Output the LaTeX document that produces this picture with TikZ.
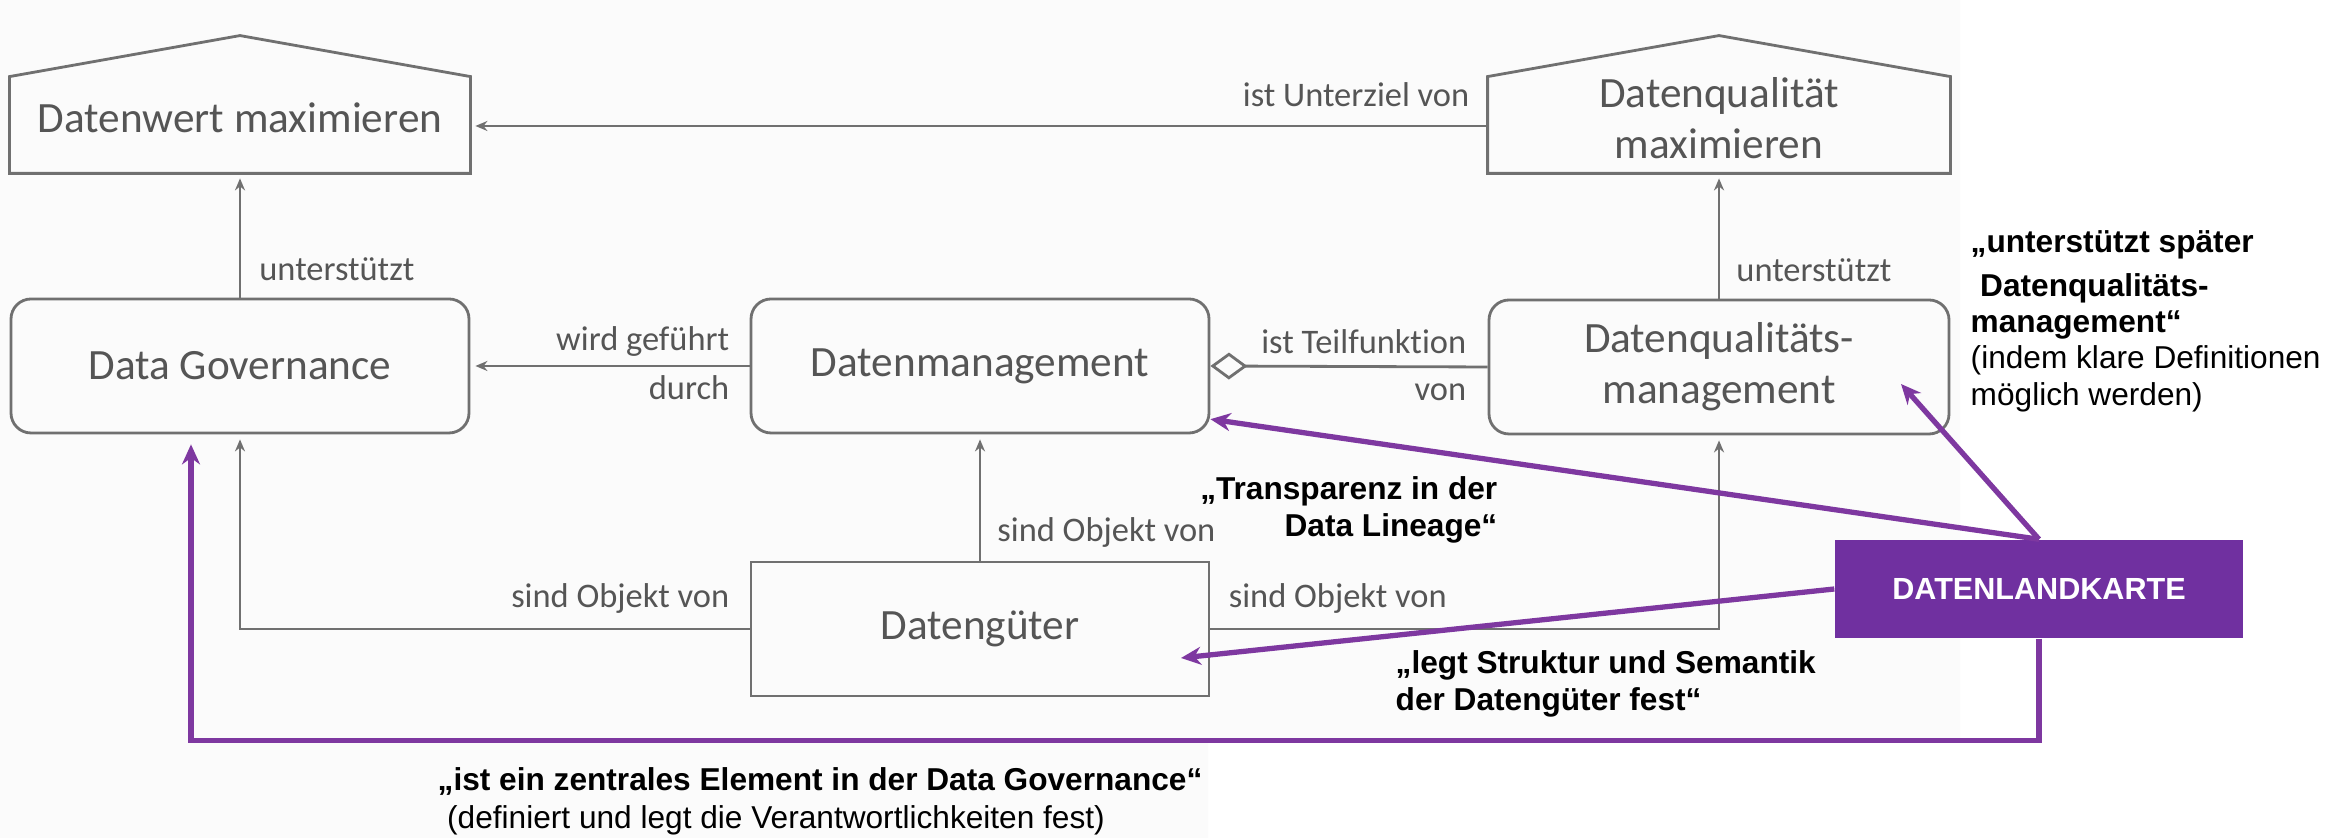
\documentclass[tikz,border=0pt]{standalone}
\usepackage{fontspec}
\setmainfont{Liberation Sans}
\newfontfamily\calibri[Ligatures=NoCommon]{Carlito}
\usepackage{xcolor}
\usepackage{tikz}
\usetikzlibrary{arrows.meta, positioning, calc}
\definecolor{mGray}{HTML}{707070}
\definecolor{mGrayText}{HTML}{555555}
\definecolor{mPurple}{HTML}{7030A0}
\definecolor{mPurpleLine}{HTML}{7E38A0}
\definecolor{mBack}{HTML}{FBFBFB}

\begin{document}
\begin{tikzpicture}[
    box/.style={rectangle, draw=mGray, line width=0.8pt, rounded corners=0.2cm, minimum width=4.58cm, minimum height=1.34cm, inner sep=0pt, align=center, text=mGrayText, font=\calibri\fontsize{12.3}{14.6}\selectfont},
    goal/.style={box, draw=none, sharp corners, minimum height=1.08cm},
    outline/.style={draw=mGray, line width=0.8pt},
    rel/.style={font=\calibri\fontsize{9.8}{11.8}\selectfont, text=mGrayText, inner sep=0.08cm},
    arrow/.style={line width=0.8pt, mGray, shorten >=0.05cm, -{Stealth[length=0.12cm,width=0.10cm]}},
    hot/.style={line width=1.5pt, mPurpleLine, -{Stealth[length=0.2cm,width=0.18cm]}},
    note/.style={font=\fontsize{9}{10.3}\selectfont, inner sep=0pt, align=left}
]
    \useasboundingbox (0,0) rectangle (23.51,8.38);
    \fill[mBack] (0,8.38) -- (19.60,8.38) -- (19.60,0.98) -- (12.08,0.98) -- (12.08,0) -- (0,0) -- cycle;

    \node[goal] (dwm) at (2.40,7.20) {Datenwert maximieren};
    \node[goal, minimum width=4.60cm] (dqz) at (17.19,7.20) {Datenqualität\\maximieren};
    \node[box] (dg) at (2.40,4.72) {Data Governance};
    \node[box] (dm) at (9.80,4.72) {Datenmanagement};
    \node[box, minimum width=4.60cm] (dqm) at (17.19,4.71) {Datenqualitäts-\\management};
    \node[box, sharp corners] (dgut) at (9.80,2.09) {Datengüter};
    \node[fill=mPurple, minimum width=4.08cm, minimum height=0.98cm, text=white, font=\bfseries\fontsize{8.7}{10}\selectfont] (dlk) at (20.39,2.49) {DATENLANDKARTE};

    \foreach \n in {dwm,dqz}
        \draw[outline] (\n.south west) -- ($(\n.north west)+(0,-0.14)$) -- ($(\n.north)+(0,0.27)$) -- ($(\n.north east)+(0,-0.14)$) -- (\n.south east) -- cycle;

    \draw[arrow] (dg) -- node[rel, pos=0.23, anchor=west, xshift=0.10cm] {unterstützt} (dwm);
    \draw[arrow] (dqm) -- node[rel, pos=0.23, anchor=west, xshift=0.08cm] {unterstützt} (dqz);
    \draw[arrow] ([yshift=-0.08cm]dqz.west) -- node[rel, pos=0, anchor=south east, xshift=-0.09cm, yshift=0.10cm] {ist Unterziel von} ([yshift=-0.08cm]dwm.east);
    \draw[arrow] (dm) -- node[rel, pos=0, anchor=south east, xshift=-0.11cm] {wird geführt} node[rel, pos=0, anchor=north east, xshift=-0.11cm] {durch} (dg);
    \draw[outline, {Diamond[open,length=0.37cm,width=0.27cm]}-] (dm.east) -- node[rel, pos=1, anchor=south east, xshift=-0.12cm, yshift=0.04cm] {ist Teilfunktion} node[rel, pos=1, anchor=north east, xshift=-0.12cm, yshift=-0.07cm] {von} (dqm.west);
    \draw[arrow] (dgut) -- node[rel, pos=0.225, anchor=west, xshift=0.08cm] {sind Objekt von} (dm);
    \draw[arrow] (dgut.west) -| node[rel, pos=0, anchor=south east, xshift=-0.11cm, yshift=0.06cm] {sind Objekt von} (dg.south);
    \draw[arrow] (dgut.east) -| node[rel, pos=0, anchor=south west, xshift=0.09cm, yshift=0.06cm] {sind Objekt von} (dqm.south);

    \coordinate (dqmin) at ($(dqm.center)+(1.82,-0.17)$);
    \coordinate (dgutin) at ($(dgut.center)+(2.01,-0.29)$);
    \coordinate (dgtip) at ($(dg.south)+(-0.49,-0.10)$);
    \draw[hot] (dlk.north) -- (dm.-13);
    \draw[hot] (dlk.north) -- (dqmin);
    \draw[hot] (dlk.west) -- (dgutin);
    \draw[hot] (dlk.south) -- ++(0,-1.02) -| (dgtip);

    \node[note, anchor=east, align=right] (trans) at (14.98,3.28) {\textbf{„Transparenz in der}\\\textbf{Data Lineage“}};
    \node[note, anchor=west, font=\fontsize{9}{10.5}\selectfont] (struk) at (13.95,1.545) {\textbf{„legt Struktur und Semantik}\\\textbf{der Datengüter fest“}};
    \node[note, anchor=west, font=\fontsize{9}{10.8}\selectfont] (zentral) at (4.37,0.37) {\textbf{„ist ein zentrales Element in der Data Governance“}\\\hspace{0.3em}(definiert und legt die Verantwortlichkeiten fest)};
    \node[note, anchor=west] (spaeter) at (19.70,5.17) {\textbf{„unterstützt später}\\[0.08cm]\textbf{\hspace{0.3em}Datenqualitäts-}\\\textbf{management“}\\(indem klare Definitionen\\möglich werden)};
\end{tikzpicture}
\end{document}
